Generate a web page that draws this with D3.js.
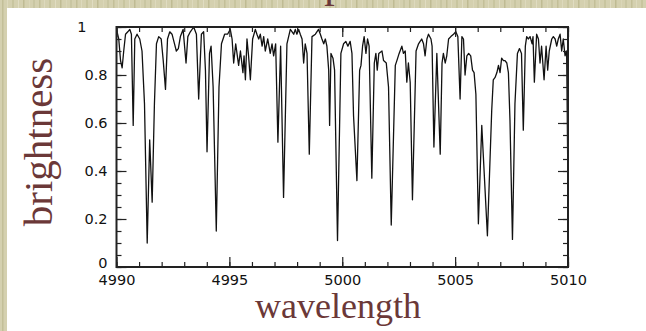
<!DOCTYPE html>
<html>
<head>
<meta charset="utf-8">
<script src="https://cdn.jsdelivr.net/npm/d3@7"></script>
<style>
html,body{margin:0;padding:0;background:#d3cfae;}
svg{display:block;}
</style>
</head>
<body>
<div id="chart"></div>
<script>
// spectrum: wavelength (A) and relative brightness
var wavelength = [
  4990.00,4990.10,4990.18,4990.25,4990.32,4990.40,4990.50,4990.59,4990.66,4990.74,
  4990.81,4990.91,4991.03,4991.13,4991.24,4991.36,4991.47,4991.58,4991.68,4991.77,
  4991.87,4991.98,4992.07,4992.17,4992.26,4992.36,4992.46,4992.57,4992.65,4992.74,
  4992.83,4992.95,4993.08,4993.16,4993.27,4993.42,4993.54,4993.64,4993.76,4993.86,
  4993.94,4994.01,4994.12,4994.19,4994.28,4994.42,4994.54,4994.65,4994.79,4994.92,
  4995.04,4995.12,4995.19,4995.28,4995.41,4995.49,4995.60,4995.65,4995.71,4995.78,
  4995.85,4995.93,4996.03,4996.15,4996.22,4996.30,4996.37,4996.45,4996.52,4996.59,
  4996.70,4996.81,4996.89,4996.96,4997.05,4997.15,4997.27,4997.40,4997.55,4997.70,
  4997.85,4997.92,4997.99,4998.07,4998.14,4998.22,4998.29,4998.36,4998.44,4998.54,
  4998.66,4998.81,4998.95,4999.03,4999.10,4999.18,4999.25,4999.32,4999.40,4999.44,
  4999.50,4999.59,4999.66,4999.79,4999.94,5000.06,5000.16,5000.25,5000.35,5000.43,
  5000.50,5000.65,5000.77,5000.83,5000.90,5000.97,5001.05,5001.12,5001.19,5001.31,
  5001.42,5001.49,5001.55,5001.62,5001.76,5001.83,5001.95,5002.05,5002.17,5002.35,
  5002.42,5002.52,5002.64,5002.71,5002.79,5002.86,5002.93,5003.01,5003.11,5003.27,
  5003.38,5003.45,5003.52,5003.60,5003.67,5003.75,5003.82,5003.93,5003.98,5004.06,
  5004.19,5004.34,5004.42,5004.48,5004.56,5004.63,5004.71,5004.81,5004.93,5005.03,
  5005.12,5005.22,5005.30,5005.37,5005.44,5005.52,5005.60,5005.69,5005.77,5005.84,
  5005.92,5006.03,5006.18,5006.43,5006.62,5006.69,5006.77,5006.85,5006.92,5006.99,
  5007.06,5007.14,5007.21,5007.29,5007.36,5007.43,5007.54,5007.65,5007.76,5007.85,
  5007.94,5008.02,5008.11,5008.17,5008.24,5008.32,5008.41,5008.45,5008.51,5008.61,
  5008.69,5008.76,5008.83,5008.94,5009.03,5009.10,5009.17,5009.28,5009.35,5009.43,
  5009.50,5009.57,5009.65,5009.72,5009.79,5009.87,5009.94,5010.00
];
var brightness = [
  0.99,0.95,0.86,0.83,0.90,0.97,0.98,0.99,0.97,0.59,
  0.95,0.97,0.95,0.90,0.68,0.10,0.53,0.27,0.68,0.93,
  0.96,0.95,0.86,0.74,0.95,0.98,0.97,0.93,0.90,0.91,
  0.96,0.99,0.85,0.96,0.98,1.00,0.97,0.70,0.97,0.98,
  0.82,0.48,0.89,0.92,0.75,0.15,0.75,0.93,0.97,0.97,
  0.99,0.95,0.85,0.93,0.84,0.90,0.81,0.88,0.78,0.95,
  0.88,0.78,0.95,0.99,0.97,0.95,0.97,0.92,0.96,0.90,
  0.95,0.89,0.93,0.88,0.93,0.52,0.92,0.29,0.93,0.99,
  0.97,0.99,0.97,0.99,0.97,0.95,0.85,0.93,0.89,0.47,
  0.96,0.97,0.99,0.97,0.95,0.93,0.95,0.92,0.82,0.59,
  0.89,0.87,0.82,0.11,0.89,0.93,0.94,0.92,0.94,0.89,
  0.63,0.36,0.82,0.84,0.92,0.96,0.89,0.95,0.92,0.37,
  0.85,0.89,0.82,0.89,0.90,0.86,0.85,0.75,0.175,0.84,
  0.86,0.89,0.92,0.89,0.90,0.77,0.85,0.77,0.28,0.90,
  0.93,0.94,0.95,0.93,0.88,0.95,0.97,0.95,0.92,0.50,
  0.89,0.47,0.85,0.89,0.85,0.88,0.95,0.96,0.97,0.98,
  0.96,0.70,0.96,0.95,0.80,0.88,0.89,0.88,0.82,0.81,
  0.72,0.18,0.59,0.13,0.65,0.78,0.79,0.81,0.84,0.81,
  0.87,0.86,0.86,0.85,0.81,0.61,0.115,0.68,0.89,0.91,
  0.89,0.57,0.92,0.96,0.95,0.96,0.93,0.96,0.77,0.97,
  0.95,0.85,0.92,0.78,0.92,0.82,0.90,0.95,0.96,0.95,
  0.92,0.95,0.97,0.90,0.95,0.88,0.90,0.31
];
var xMajorTicks = [4990, 4995, 5000, 5005, 5010];
var xMinorTicks = d3.range(4990, 5010.5, 1);
var yMajorTicks = [0, 0.2, 0.4, 0.6, 0.8, 1];
var yMinorTicks = d3.range(0, 1.001, 0.05);
var xTitle = "wavelength", yTitle = "brightness", hiddenTitle = "spectrum";

var W = 646, H = 331;
var plot = {left: 116.5, right: 568, top: 27, bottom: 267};
var ink = "#6b3838";

var svg = d3.select("#chart").append("svg").attr("width", W).attr("height", H);

// beige paper with vertical streaks
var pat = svg.append("defs").append("pattern").attr("id", "paper")
  .attr("patternUnits", "userSpaceOnUse").attr("width", 37).attr("height", 331);
pat.append("rect").attr("width", 37).attr("height", 331).attr("fill", "#d4d0af");
[[2,1.5,"#c3bf98"],[7,1,"#ddd9bd"],[12,2,"#c8c59f"],[18,1,"#e0dcc2"],[23,1.5,"#bfbb93"],[29,1,"#dad6b8"],[33,2,"#c9c6a2"]]
  .forEach(function(s){ pat.append("rect").attr("x", s[0]).attr("width", s[1]).attr("height", 331).attr("fill", s[2]); });
svg.append("rect").attr("width", W).attr("height", H).attr("fill", "url(#paper)");

// title sits above the white card, only its descender shows
svg.append("text").attr("x", 308).attr("y", -3)
  .attr("font-family", "'Liberation Serif', serif").attr("font-size", 42).attr("fill", ink)
  .text(hiddenTitle);

svg.append("rect").attr("x", 7).attr("y", 8).attr("width", W - 7).attr("height", H - 8).attr("fill", "#fff");

var x = d3.scaleLinear().domain([4990, 5010]).range([plot.left, plot.right]);
var y = d3.scaleLinear().domain([0, 1]).range([plot.bottom, plot.top]);

svg.append("clipPath").attr("id", "clip").append("rect")
  .attr("x", plot.left).attr("y", plot.top - 2)
  .attr("width", plot.right - plot.left).attr("height", plot.bottom - plot.top + 2);

var pts = wavelength.map(function(w, i){ return [w, brightness[i]]; });
svg.append("path").datum(pts)
  .attr("clip-path", "url(#clip)")
  .attr("fill", "none").attr("stroke", "#111").attr("stroke-width", 1.3)
  .attr("stroke-linejoin", "round")
  .attr("d", d3.line().x(function(d){ return x(d[0]); }).y(function(d){ return y(d[1]); }));

function styleAxis(g){
  g.select(".domain").remove();
  g.selectAll("line").attr("stroke", "#222").attr("stroke-width", 1.2);
  g.selectAll("text").attr("font-family", "'DejaVu Sans', sans-serif")
    .attr("font-size", 14.5).attr("fill", "#111");
}

// inward ticks on all four sides
svg.append("g").attr("transform", "translate(0," + plot.bottom + ")")
  .call(d3.axisBottom(x).tickValues(xMinorTicks).tickSize(-5).tickFormat("")).call(styleAxis);
svg.append("g").attr("transform", "translate(0," + plot.bottom + ")")
  .call(d3.axisBottom(x).tickValues(xMajorTicks).tickSize(-10).tickPadding(8).tickFormat(d3.format("d"))).call(styleAxis);
svg.append("g").attr("transform", "translate(0," + plot.top + ")")
  .call(d3.axisTop(x).tickValues(xMinorTicks).tickSize(-5).tickFormat("")).call(styleAxis);
svg.append("g").attr("transform", "translate(0," + plot.top + ")")
  .call(d3.axisTop(x).tickValues(xMajorTicks).tickSize(-10).tickFormat("")).call(styleAxis);

svg.append("g").attr("transform", "translate(" + plot.left + ",0)")
  .call(d3.axisLeft(y).tickValues(yMinorTicks).tickSize(-5).tickFormat("")).call(styleAxis);
var yLab = svg.append("g").attr("transform", "translate(" + plot.left + ",0)")
  .call(d3.axisLeft(y).tickValues(yMajorTicks).tickSize(-10).tickPadding(9).tickFormat(function(d){ return d === 0 || d === 1 ? String(d) : d3.format(".1f")(d); }))
  .call(styleAxis);
yLab.selectAll(".tick").filter(function(d){ return d === 1; }).select("text").attr("x", -30);
yLab.selectAll(".tick").filter(function(d){ return d === 0; }).select("text").attr("dy", "0.05em");
svg.append("g").attr("transform", "translate(" + plot.right + ",0)")
  .call(d3.axisRight(y).tickValues(yMinorTicks).tickSize(-5).tickFormat("")).call(styleAxis);
svg.append("g").attr("transform", "translate(" + plot.right + ",0)")
  .call(d3.axisRight(y).tickValues(yMajorTicks).tickSize(-10).tickFormat("")).call(styleAxis);

svg.append("rect").attr("x", plot.left).attr("y", plot.top)
  .attr("width", plot.right - plot.left).attr("height", plot.bottom - plot.top)
  .attr("fill", "none").attr("stroke", "#222").attr("stroke-width", 2);

svg.append("text").attr("x", 338).attr("y", 318).attr("text-anchor", "middle")
  .attr("font-family", "'Liberation Serif', serif").attr("font-size", 36).attr("fill", ink)
  .text(xTitle);
svg.append("text").attr("transform", "translate(52,142) rotate(-90)").attr("text-anchor", "middle")
  .attr("font-family", "'Liberation Serif', serif").attr("font-size", 41).attr("fill", ink)
  .text(yTitle);
</script>
</body>
</html>
